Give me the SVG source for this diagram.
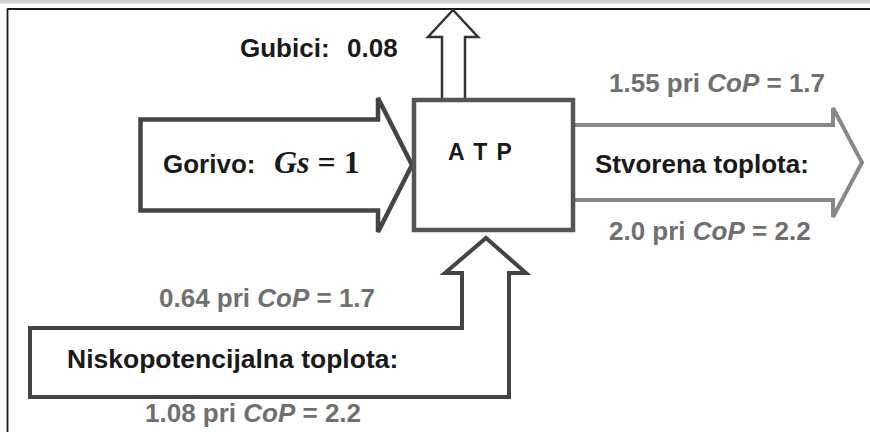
<svg xmlns="http://www.w3.org/2000/svg" width="870" height="432" viewBox="0 0 870 432">
  <style>
    .lbl { font-family: "Liberation Sans", Arial, sans-serif; font-weight: bold; font-size: 26px; fill: #1a1a1a; }
    .val { font-family: "Liberation Sans", Arial, sans-serif; font-weight: bold; font-size: 26px; fill: #707070; }
    .it { font-style: italic; }
    .math { font-family: "Liberation Serif", "Times New Roman", serif; font-weight: bold; font-size: 32px; fill: #1a1a1a; }
    .arrow { fill: #ffffff; stroke-linejoin: miter; }
  </style>
  <rect x="0" y="0" width="870" height="432" fill="#ffffff"/>
  <!-- frame -->
  <rect x="0" y="0" width="870" height="3.5" fill="#d2d2d2"/>
  <line x1="7" y1="9" x2="870" y2="9" stroke="#1a1a1a" stroke-width="1.8"/>
  <line x1="7.5" y1="9" x2="7.5" y2="432" stroke="#1a1a1a" stroke-width="1.8"/>

  <g id="connectors">
    <path id="gubici-arrow" class="arrow" d="M442,100 V37 H428 L453,10 L478,37 H465 V100" stroke="#333333" stroke-width="2.5"/>
    <path id="gorivo-arrow" class="arrow" d="M140.5,119.5 H378 V98 L412,165 L378,232 V210.5 H140.5 Z" stroke="#444444" stroke-width="4.5"/>
    <path id="stvorena-arrow" class="arrow" d="M575,125 H833 V108 L862,162.5 L833,217 V200 H575" stroke="#888888" stroke-width="4"/>
    <path id="nisko-arrow" class="arrow" d="M30,328 H462 V273 H445 L486,238 L526,273 H509 V397 H30 Z" stroke="#444444" stroke-width="4"/>
  </g>

  <g id="atp">
    <rect x="414" y="100" width="159" height="130" fill="#ffffff" stroke="#555555" stroke-width="4.5"/>
    <text class="lbl" x="448" y="160" style="font-size:23px" letter-spacing="1.5">A T P</text>
  </g>

  <g id="gorivo">
    <text class="lbl" x="163" y="173">Gorivo:</text>
    <text class="math" x="274" y="173"><tspan font-style="italic">Gs</tspan> = 1</text>
  </g>

  <g id="gubici">
    <text class="lbl" x="240" y="57">Gubici:</text>
    <text class="lbl" x="347" y="57">0.08</text>
  </g>

  <g id="stvorena">
    <text class="val" x="609" y="92">1.55 pri <tspan class="it">CoP</tspan> = 1.7</text>
    <text class="lbl" x="595" y="173">Stvorena toplota:</text>
    <text class="val" x="609" y="240">2.0 pri <tspan class="it">CoP</tspan> = 2.2</text>
  </g>

  <g id="niskopotencijalna">
    <text class="val" x="159" y="307">0.64 pri <tspan class="it">CoP</tspan> = 1.7</text>
    <text class="lbl" x="67" y="368" style="font-size:26.5px">Niskopotencijalna toplota:</text>
    <text class="val" x="145" y="422">1.08 pri <tspan class="it">CoP</tspan> = 2.2</text>
  </g>
</svg>
